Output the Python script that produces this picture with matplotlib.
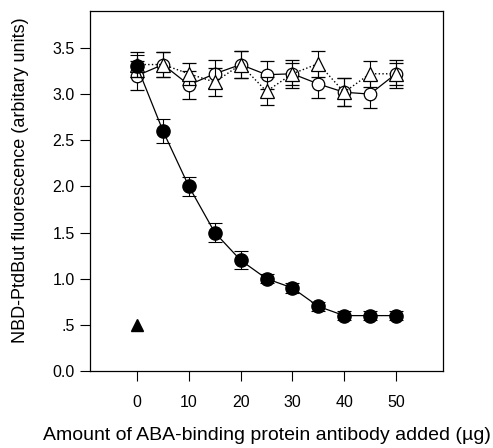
import numpy as np
import matplotlib.pyplot as plt
from matplotlib.ticker import FuncFormatter

plt.rcParams['font.family'] = ['Liberation Sans', 'DejaVu Sans']

# antibody added (ug)
dose = [0, 5, 10, 15, 20, 25, 30, 35, 40, 45, 50]

# ABA-binding protein antibody (filled circles)
filled_circ = [3.3, 2.6, 2.0, 1.5, 1.2, 1.0, 0.9, 0.7, 0.6, 0.6, 0.6]
filled_err = [0.12, 0.13, 0.1, 0.1, 0.1, 0.05, 0.05, 0.05, 0.05, 0.05, 0.05]

# open circles (solid line)
open_circ = [3.2, 3.32, 3.1, 3.22, 3.32, 3.21, 3.22, 3.11, 3.02, 3.0, 3.22]
open_circ_err = [0.16, 0.14, 0.15, 0.15, 0.15, 0.15, 0.15, 0.15, 0.15, 0.15, 0.15]

# open triangles (dotted line)
open_tri = [3.32, 3.32, 3.22, 3.13, 3.32, 3.03, 3.22, 3.33, 3.02, 3.22, 3.22]
open_tri_err = [0.14, 0.14, 0.12, 0.15, 0.15, 0.15, 0.12, 0.14, 0.15, 0.14, 0.12]

# single filled triangle
ctrl_x = [0]
ctrl_y = [0.5]

fig = plt.figure(figsize=(4.93, 4.48), dpi=100)
ax = fig.add_axes([0.1826, 0.1719, 0.716, 0.8035])

ekw = dict(ecolor='black', elinewidth=0.8, capsize=5, capthick=0.8)

ax.errorbar(dose, open_circ, yerr=open_circ_err, fmt='-o', color='black', lw=0.9,
            mfc='white', mec='black', ms=9, mew=0.9, zorder=3, **ekw)
ax.errorbar(dose, open_tri, yerr=open_tri_err, fmt=':^', color='black', lw=1.0,
            mfc='white', mec='black', ms=9.5, mew=0.9, zorder=4, **ekw)
ax.errorbar(dose, filled_circ, yerr=filled_err, fmt='-o', color='black', lw=0.9,
            mfc='black', mec='black', ms=9.5, zorder=5, **ekw)
ax.plot(ctrl_x, ctrl_y, '^', color='black', ms=9, zorder=5)

ax.set_xlim(-9.1, 59.1)
ax.set_ylim(0, 3.9)
ax.set_xticks([0, 10, 20, 30, 40, 50])
ax.set_yticks(np.arange(0, 3.6, 0.5))
ax.yaxis.set_major_formatter(FuncFormatter(lambda v, p: '0.0' if v == 0 else ('%.1f' % v).lstrip('0')))

ax.tick_params(direction='out', length=7, width=0.8, labelsize=11.5)
ax.tick_params(axis='x', pad=10)
ax.tick_params(axis='y', pad=4)
for s in ax.spines.values():
    s.set_linewidth(0.9)

ax.set_ylabel('NBD-PtdBut fluorescence (arbitary units)', fontsize=13)
ax.yaxis.set_label_coords(-0.172, 0.53)
ax.set_xlabel('Amount of ABA-binding protein antibody added (\u00b5g)', fontsize=14)
ax.xaxis.set_label_coords(0.5, -0.155)

plt.savefig('out.png', dpi=100)
